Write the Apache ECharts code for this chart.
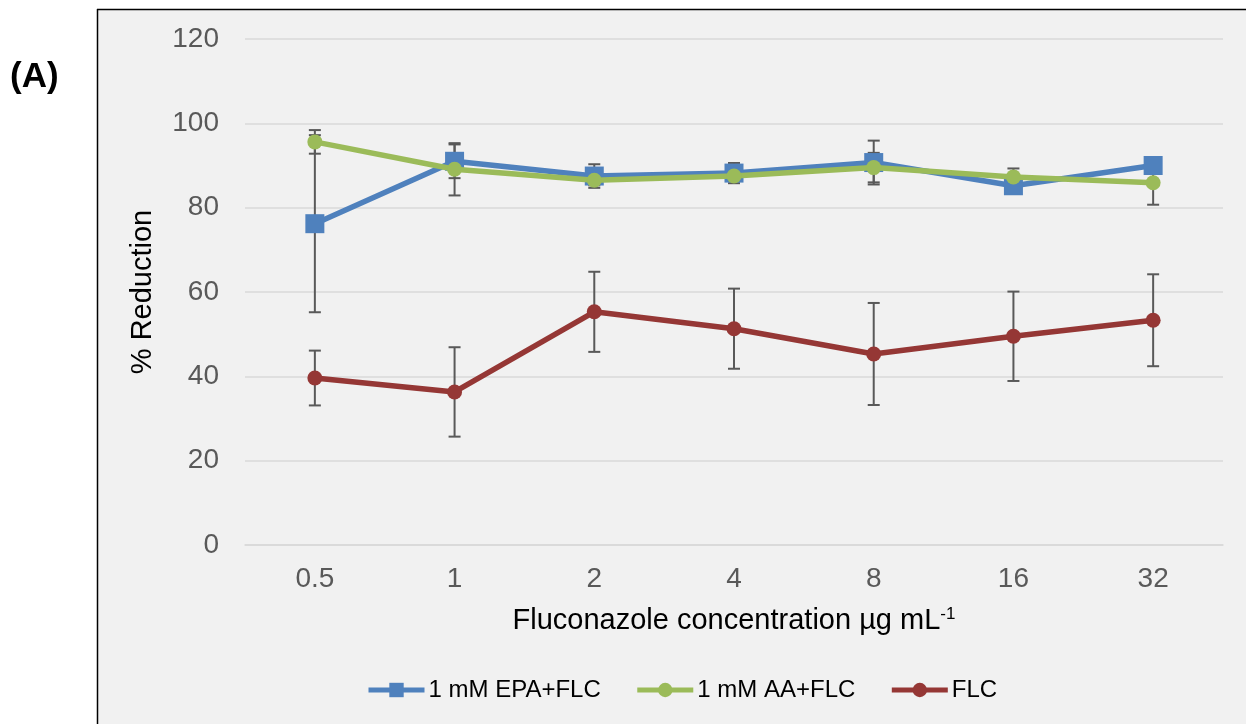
<!DOCTYPE html>
<html>
<head>
<meta charset="utf-8">
<script src="https://cdn.jsdelivr.net/npm/echarts@6/dist/echarts.min.js"></script>
<style>
  html, body { margin: 0; padding: 0; background: #ffffff; }
  #chart { width: 1246px; height: 724px; }
</style>
</head>
<body>
<div id="chart"></div>
<script>
// Fluconazole concentrations (µg/mL) on the category axis
const concentrations = ['0.5', '1', '2', '4', '8', '16', '32'];
const yTicks = [0, 20, 40, 60, 80, 100, 120];

// % reduction, mean values
const epaFlc = [76.2, 91.0, 87.5, 88.2, 90.7, 85.2, 90.0];
const aaFlc  = [95.6, 89.1, 86.5, 87.5, 89.5, 87.3, 85.9];
const flc    = [39.6, 36.3, 55.3, 51.3, 45.3, 49.5, 53.3];

// Error (± deviation) per point
const epaErr = [21.0, 4.0, 2.8, 2.4, 5.2, 1.5, 1.0];
const aaErr  = [2.8, 6.2, 1.2, 1.0, 3.5, 2.0, 5.2];
const flcErr = [6.5, 10.6, 9.5, 9.5, 12.1, 10.6, 10.9];

const FONT = '"Liberation Sans", Arial, sans-serif';

function errorData(means, errs) {
  return means.map((m, i) => [i, m - errs[i], m + errs[i]]);
}

// Vertical whisker with caps at both ends
function renderError(params, api) {
  const x = api.value(0);
  const lo = api.coord([x, api.value(1)]);
  const hi = api.coord([x, api.value(2)]);
  const half = 6;
  const style = { stroke: '#595959', lineWidth: 2 };
  return {
    type: 'group',
    children: [
      { type: 'line', shape: { x1: lo[0], y1: lo[1], x2: hi[0], y2: hi[1] }, style },
      { type: 'line', shape: { x1: hi[0] - half, y1: hi[1], x2: hi[0] + half, y2: hi[1] }, style },
      { type: 'line', shape: { x1: lo[0] - half, y1: lo[1], x2: lo[0] + half, y2: lo[1] }, style }
    ]
  };
}

function errorSeries(means, errs) {
  return {
    type: 'custom',
    renderItem: renderError,
    data: errorData(means, errs),
    encode: { x: 0, y: [1, 2] },
    z: 1,
    silent: true,
    tooltip: { show: false }
  };
}

const chart = echarts.init(document.getElementById('chart'), null, { renderer: 'canvas' });

const option = {
  animation: false,
  backgroundColor: '#ffffff',
  graphic: [
    {
      type: 'rect',
      left: 97, top: 9,
      shape: { width: 1160, height: 730 },
      style: { fill: '#f1f1f1', stroke: null },
      z: -10, silent: true
    },
    {
      type: 'line',
      shape: { x1: 97.5, y1: 9, x2: 97.5, y2: 724 },
      style: { stroke: '#000000', lineWidth: 1.5 },
      z: -5, silent: true
    },
    {
      type: 'line',
      shape: { x1: 97, y1: 9.5, x2: 1246, y2: 9.5 },
      style: { stroke: '#000000', lineWidth: 1.5 },
      z: -5, silent: true
    },
    {
      type: 'text',
      left: 10, top: 60,
      style: { text: '(A)', font: 'bold 35px ' + FONT, fill: '#000000' }
    }
  ],
  grid: { left: 245, right: 23, top: 39, bottom: 179, containLabel: false },
  legend: {
    top: 673,
    left: 361,
    itemWidth: 56,
    itemHeight: 18,
    itemGap: 34,
    lineStyle: { width: 5 },
    textStyle: { fontFamily: FONT, fontSize: 24, color: '#000000', padding: [0, 0, 0, -1] },
    data: ['1 mM EPA+FLC', '1 mM AA+FLC', 'FLC']
  },
  xAxis: {
    type: 'category',
    data: concentrations,
    boundaryGap: true,
    axisLine: { show: true, lineStyle: { color: '#d9d9d9', width: 1.5 } },
    axisTick: { show: false },
    axisLabel: { fontFamily: FONT, fontSize: 28, color: '#595959', margin: 20 },
    name: 'Fluconazole concentration µg mL{sup|-1}',
    nameLocation: 'middle',
    nameGap: 61,
    nameTextStyle: {
      fontFamily: FONT, fontSize: 29, color: '#000000',
      rich: { sup: { fontFamily: FONT, fontSize: 17, color: '#000000', verticalAlign: 'top', padding: [0, 0, 12, 0] } }
    }
  },
  yAxis: {
    type: 'value',
    min: yTicks[0],
    max: yTicks[yTicks.length - 1],
    interval: yTicks[1] - yTicks[0],
    axisLine: { show: false },
    axisTick: { show: false },
    splitLine: { lineStyle: { color: '#d9d9d9', width: 1.5 } },
    axisLabel: { fontFamily: FONT, fontSize: 28, color: '#595959', margin: 26 },
    name: '% Reduction',
    nameLocation: 'middle',
    nameGap: 88,
    nameTextStyle: { fontFamily: FONT, fontSize: 29, color: '#000000' }
  },
  series: [
    errorSeries(epaFlc, epaErr),
    errorSeries(aaFlc, aaErr),
    errorSeries(flc, flcErr),
    {
      name: '1 mM EPA+FLC',
      type: 'line',
      data: epaFlc,
      symbol: 'rect',
      symbolSize: 19,
      lineStyle: { color: '#4f81bd', width: 5.5 },
      itemStyle: { color: '#4f81bd' },
      z: 3
    },
    {
      name: '1 mM AA+FLC',
      type: 'line',
      data: aaFlc,
      symbol: 'circle',
      symbolSize: 15,
      lineStyle: { color: '#9bbb59', width: 5.5 },
      itemStyle: { color: '#9bbb59' },
      z: 4
    },
    {
      name: 'FLC',
      type: 'line',
      data: flc,
      symbol: 'circle',
      symbolSize: 15,
      lineStyle: { color: '#953735', width: 5.5 },
      itemStyle: { color: '#953735' },
      z: 3
    }
  ]
};

chart.setOption(option);
</script>
</body>
</html>
